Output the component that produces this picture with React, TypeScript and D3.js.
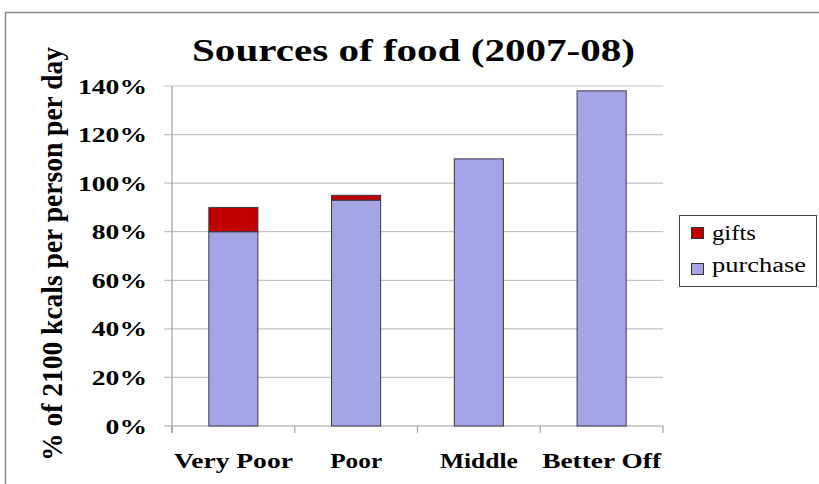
import React from "react";
import * as d3 from "d3";

const categories = ["Very Poor", "Poor", "Middle", "Better Off"];
const purchase = [80, 93, 110, 138];
const gifts = [10, 2, 0, 0];
const yTicks = [0, 20, 40, 60, 80, 100, 120, 140];
const seriesNames = ["gifts", "purchase"];
const seriesColors = ["#C00000", "#A5A5E6"];

const FONT = "Liberation Serif, Times New Roman, Times, serif";

// measured rendered widths of texts in the reference (px)
const catLabelWidths = [119, 52, 78, 119];
const legendWidths = [44, 94];

export default function App() {
  const W = 819, H = 484;
  const left = 172, right = 663, top = 86, bottom = 426;
  const y = d3.scaleLinear().domain([0, 140]).range([bottom, top]);
  const x = d3.scaleBand<string>().domain(categories).range([left, right]).padding(0);
  const bw = x.bandwidth() * 0.4;
  const stack = d3.stack<any>().keys(["purchase", "gifts"])(
    categories.map((c, i) => ({ cat: c, purchase: purchase[i], gifts: gifts[i] }))
  );
  const colorOf: Record<string, string> = { purchase: seriesColors[1], gifts: seriesColors[0] };
  const bounds = categories.map((c) => x(c)!).concat([right]);
  const bold = { fontFamily: FONT, fontWeight: 700 } as React.CSSProperties;
  const tickWidth = (t: number) => (String(t).length * 0.5 + 1.0) * 27.6;

  return (
    <svg width={W} height={H} style={{ position: "absolute", left: 0, top: 0, background: "#fff" }}>
      <rect x={0} y={0} width={W} height={H} fill="#fff" />
      <path d={`M5.5,${H} V12.5 H${W}`} fill="none" stroke="#8a8a8a" strokeWidth={1.5} />
      <text
        x={192}
        y={61}
        textLength={443}
        lengthAdjust="spacingAndGlyphs"
        style={{ ...bold, fontSize: 31 }}
      >
        Sources of food (2007-08)
      </text>
      {yTicks.map((t) => (
        <line key={t} x1={164} x2={right} y1={y(t)} y2={y(t)} stroke={t === 0 ? "#a0a0a0" : "#c4c4c4"} strokeWidth={1.2} />
      ))}
      <line x1={left} x2={left} y1={top} y2={bottom + 7} stroke="#a0a0a0" strokeWidth={1.2} />
      {bounds.map((b, i) => (
        <line key={i} x1={b} x2={b} y1={bottom} y2={bottom + 7} stroke="#a0a0a0" strokeWidth={1.2} />
      ))}
      {stack.map((s) =>
        s.map((d, i) => {
          if (d[1] - d[0] <= 0) return null;
          const cx = x(categories[i])! + x.bandwidth() / 2;
          return (
            <rect
              key={s.key + i}
              x={cx - bw / 2}
              y={y(d[1])}
              width={bw}
              height={y(d[0]) - y(d[1])}
              fill={colorOf[s.key]}
              stroke="#3a3a4a"
              strokeWidth={1}
            />
          );
        })
      )}
      {yTicks.map((t) => (
        <text
          key={t}
          x={147 - tickWidth(t)}
          y={y(t) + 7.5}
          textLength={tickWidth(t)}
          lengthAdjust="spacingAndGlyphs"
          style={{ ...bold, fontSize: 21 }}
        >
          {t}%
        </text>
      ))}
      {categories.map((c, i) => (
        <text
          key={c}
          x={x(c)! + x.bandwidth() / 2 - catLabelWidths[i] / 2}
          y={468}
          textLength={catLabelWidths[i]}
          lengthAdjust="spacingAndGlyphs"
          style={{ ...bold, fontSize: 22 }}
        >
          {c}
        </text>
      ))}
      <text
        transform={`translate(62,461) rotate(-90)`}
        x={0}
        y={0}
        textLength={414}
        lengthAdjust="spacingAndGlyphs"
        style={{ ...bold, fontSize: 30 }}
      >
        % of 2100 kcals per person per day
      </text>
      <rect x={679.5} y={215.5} width={137} height={71} fill="#fff" stroke="#444" strokeWidth={1} />
      {seriesNames.map((n, i) => (
        <g key={n}>
          <rect x={691.5} y={227.5 + i * 36} width={12} height={11} fill={seriesColors[i]} stroke="#333" strokeWidth={1} />
          <text
            x={712}
            y={240 + i * 32}
            textLength={legendWidths[i]}
            lengthAdjust="spacingAndGlyphs"
            style={{ fontFamily: FONT, fontSize: 20 }}
          >
            {n}
          </text>
        </g>
      ))}
    </svg>
  );
}
